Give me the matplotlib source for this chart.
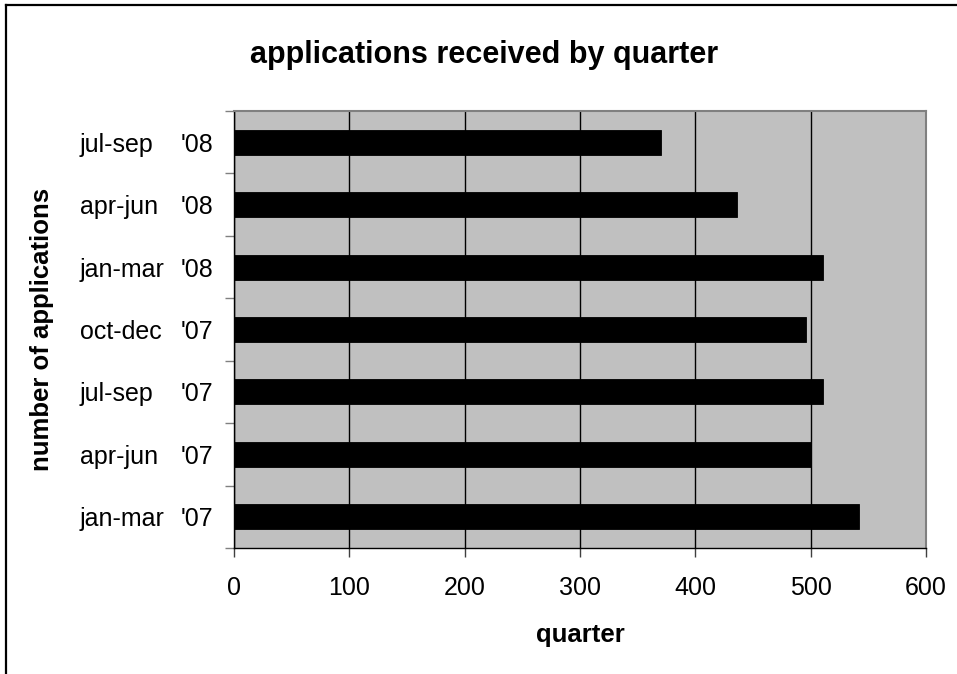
import matplotlib
matplotlib.use("Agg")
import matplotlib.pyplot as plt
from matplotlib.lines import Line2D
from matplotlib.ticker import FixedLocator
import matplotlib.transforms as mtransforms

# Quarterly application counts, oldest quarter first (drawn bottom to top)
quarters = ["jan-mar", "apr-jun", "jul-sep", "oct-dec", "jan-mar", "apr-jun", "jul-sep"]
years = ["'07", "'07", "'07", "'07", "'08", "'08", "'08"]
applications = [542, 500, 511, 496, 511, 436, 370]
x_ticks = [0, 100, 200, 300, 400, 500, 600]

plt.rcParams["font.family"] = ["Liberation Sans", "DejaVu Sans"]

W, H = 957, 674
fig = plt.figure(figsize=(W / 100, H / 100), dpi=100)
fig.patch.set_facecolor("white")

# chart-area frame (top and left edges)
fig.add_artist(Line2D([6 / W, 1.0], [1 - 5 / H, 1 - 5 / H], transform=fig.transFigure,
                      color="black", lw=1.6, solid_capstyle="projecting"))
fig.add_artist(Line2D([6 / W, 6 / W], [0.0, 1 - 5 / H], transform=fig.transFigure,
                      color="black", lw=1.6, solid_capstyle="projecting"))

left, right, top, bottom = 234, 926, 111, 548
ax = fig.add_axes([left / W, 1 - bottom / H, (right - left) / W, (bottom - top) / H])
ax.set_facecolor("#C0C0C0")

pos = list(range(len(applications)))
ax.barh(pos, applications, height=0.4, color="black", edgecolor="black", lw=0.6, zorder=3)

ax.set_xlim(0, 600)
ax.set_ylim(-0.5, len(applications) - 0.5)

ax.set_xticks(x_ticks)
ax.set_xticklabels([str(v) for v in x_ticks], fontsize=18)
ax.tick_params(axis="x", direction="out", length=6.5, width=1, color="#404040", pad=14)
ax.xaxis.grid(True, color="black", lw=1, zorder=1)
ax.set_axisbelow(True)

# category labels: year part as tick label, quarter part aligned on the left
ax.set_yticks(pos)
ax.set_yticklabels(years, fontsize=18)
ax.tick_params(axis="y", which="major", length=0, pad=15)
ax.yaxis.set_minor_locator(FixedLocator([p - 0.5 for p in pos] + [pos[-1] + 0.5]))
ax.tick_params(axis="y", which="minor", direction="out", length=6.5, width=1, color="#808080")

trans = mtransforms.blended_transform_factory(fig.transFigure, ax.transData)
for p, q in zip(pos, quarters):
    ax.text(80 / W, p, q, transform=trans, ha="left", va="center_baseline", fontsize=18)

for side in ("top", "right"):
    ax.spines[side].set_color("#808080")
    ax.spines[side].set_linewidth(1.5)
for side in ("left", "bottom"):
    ax.spines[side].set_color("black")
    ax.spines[side].set_linewidth(1)

ax.set_xlabel("quarter", fontsize=18.5, fontweight="bold", labelpad=16)
ax.set_ylabel("number of applications", fontsize=18.5, fontweight="bold")
ax.yaxis.set_label_coords((54 - left) / (right - left), 0.5)

fig.text(484 / W, 1 - 55 / H, "applications received by quarter",
         ha="center", va="center", fontsize=22, fontweight="bold")

fig.savefig("out.png", dpi=100)
